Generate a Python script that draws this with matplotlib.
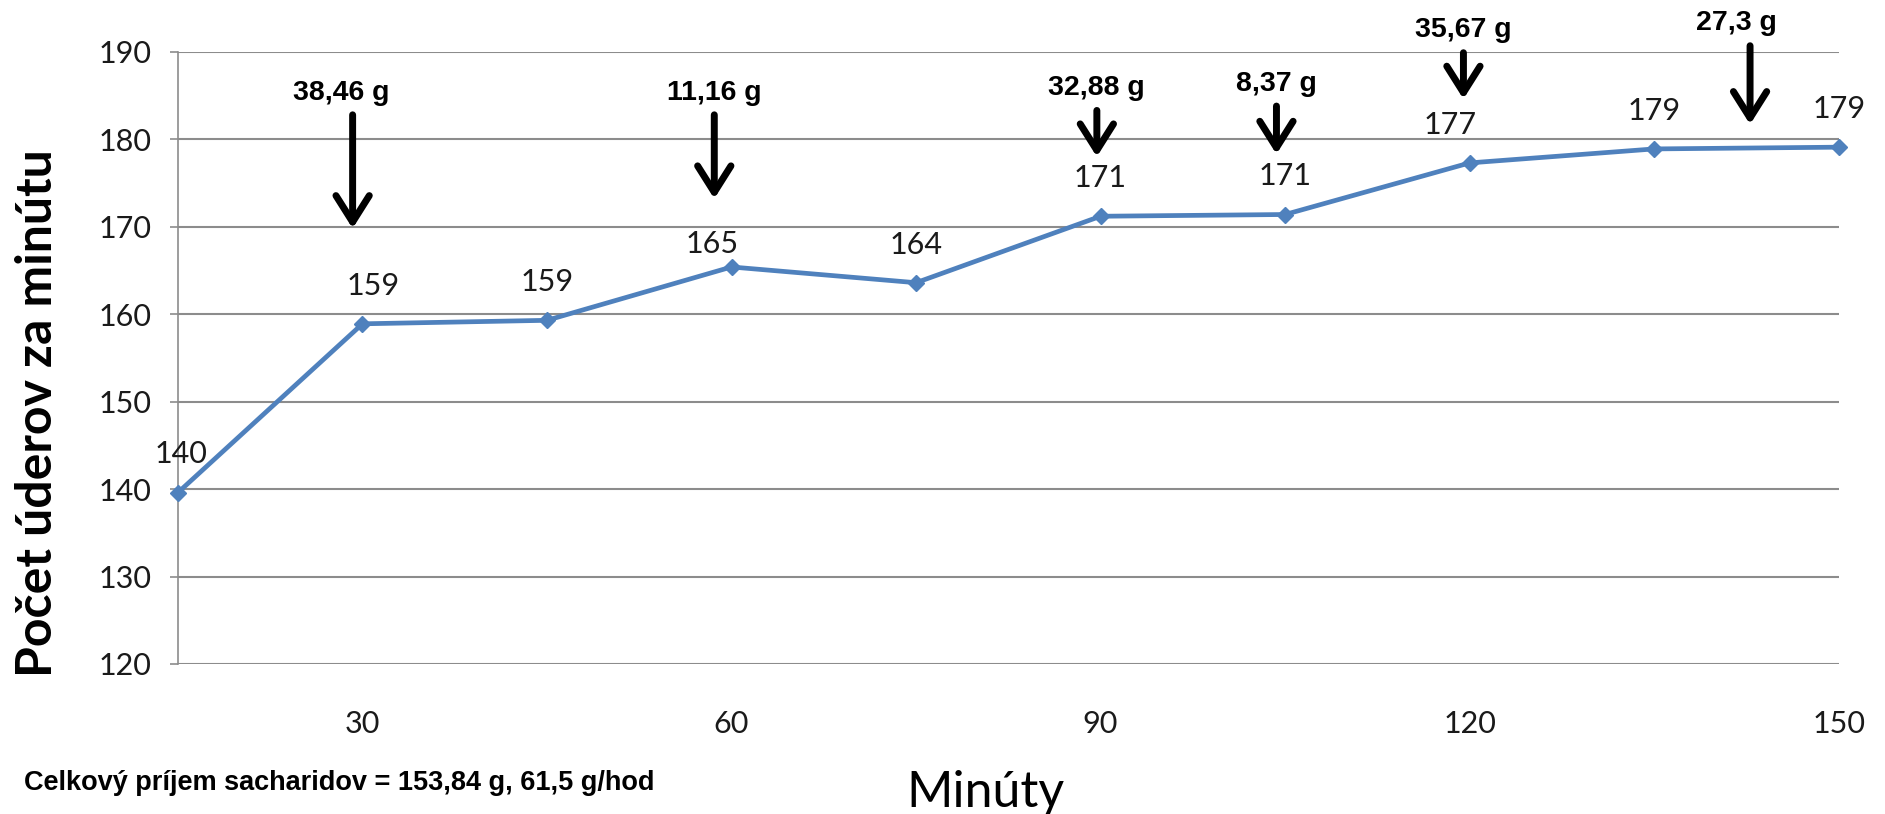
import matplotlib
matplotlib.use("Agg")
import matplotlib.pyplot as plt

# data
minutes = [15, 30, 45, 60, 75, 90, 105, 120, 135, 150]
heart_rate = [139.6, 158.9, 159.3, 165.4, 163.6, 171.2, 171.4, 177.3, 178.9, 179.1]

intake_labels = ["38,46 g", "11,16 g", "32,88 g", "8,37 g", "35,67 g", "27,3 g"]
intake_x = [29.2, 58.6, 89.7, 104.3, 119.5, 142.8]
intake_top = [182.8, 182.8, 183.3, 183.8, 189.9, 190.7]
intake_tip = [169.8, 173.2, 178.0, 178.3, 184.6, 181.7]

x_ticks = [30, 60, 90, 120, 150]
y_ticks = [120, 130, 140, 150, 160, 170, 180, 190]

note = "Celkový príjem sacharidov = 153,84 g, 61,5 g/hod"

# small nudges of the value labels (points)
label_dx = [2, 8, 0, -14, 0, 0, 0, -14, 0, 0]
label_dy = [21, 21, 21, 10, 21, 21, 21, 21, 21, 21]
label_shift = [-8, 0, 0, 0, 0, 0, 0, 0, 0, 0]

CALIBRI = ["Lato", "DejaVu Sans"]
ARIAL = ["Liberation Sans", "DejaVu Sans"]
GRID = "#8c8c8c"
BLUE = "#4f81bd"


def main():
    fig = plt.figure(figsize=(18.85, 8.14), dpi=100)
    ax = fig.add_axes([0.0944, 0.1843, 0.881, 0.752])

    ax.plot(minutes, heart_rate, color=BLUE, lw=3.4, marker="D", ms=8,
            zorder=3, clip_on=False)

    for x, y, dx, dy in zip(minutes, heart_rate, label_dx, label_dy):
        ax.annotate(f"{round(y)}", xy=(x, y), xytext=(dx, dy),
                    textcoords="offset points", ha="center", va="baseline",
                    fontsize=22, family=CALIBRI, color="#1a1a1a")

    for i, (lab, x, top, tip) in enumerate(zip(intake_labels, intake_x,
                                               intake_top, intake_tip)):
        ax.annotate("", xy=(x, tip), xytext=(x, top),
                    arrowprops=dict(arrowstyle="->,head_length=1.9,head_width=1.2",
                                    lw=5, color="black", shrinkA=0, shrinkB=0,
                                    mutation_scale=10, capstyle="round",
                                    joinstyle="round"),
                    annotation_clip=False)
        shift = -8 if i == 0 else (-10 if i == 5 else 0)
        ax.annotate(lab, xy=(x, top), xytext=(shift, 11),
                    textcoords="offset points", ha="center", va="baseline",
                    fontsize=20.5, fontweight="bold", family=ARIAL,
                    annotation_clip=False)

    ax.set_xlim(15, 150)
    ax.set_ylim(120, 190)
    ax.set_xticks(x_ticks)
    ax.set_yticks(y_ticks)
    ax.yaxis.grid(True, color=GRID, lw=1.5)
    ax.set_axisbelow(True)

    for s in ["top", "right", "bottom"]:
        ax.spines[s].set_visible(False)
    ax.spines["left"].set_color(GRID)
    ax.spines["left"].set_linewidth(1.2)

    ax.tick_params(axis="x", length=0, pad=33, labelsize=22)
    ax.tick_params(axis="y", length=6, width=1.2, color=GRID, pad=13,
                   labelsize=22)
    for t in ax.get_xticklabels() + ax.get_yticklabels():
        t.set_family(CALIBRI)
        t.set_color("#1a1a1a")

    fig.text(0.02, 0.493, "Počet úderov za minútu", rotation=90,
             ha="center", va="center", fontsize=36, fontweight="bold",
             family=CALIBRI)
    fig.text(0.523, 0.008, "Minúty", ha="center", va="baseline",
             fontsize=36, family=CALIBRI)
    fig.text(0.0127, 0.0295, note, ha="left", va="baseline",
             fontsize=19.5, fontweight="bold", family=ARIAL)

    fig.savefig("out.png", dpi=100, facecolor="white")


if __name__ == "__main__":
    main()
